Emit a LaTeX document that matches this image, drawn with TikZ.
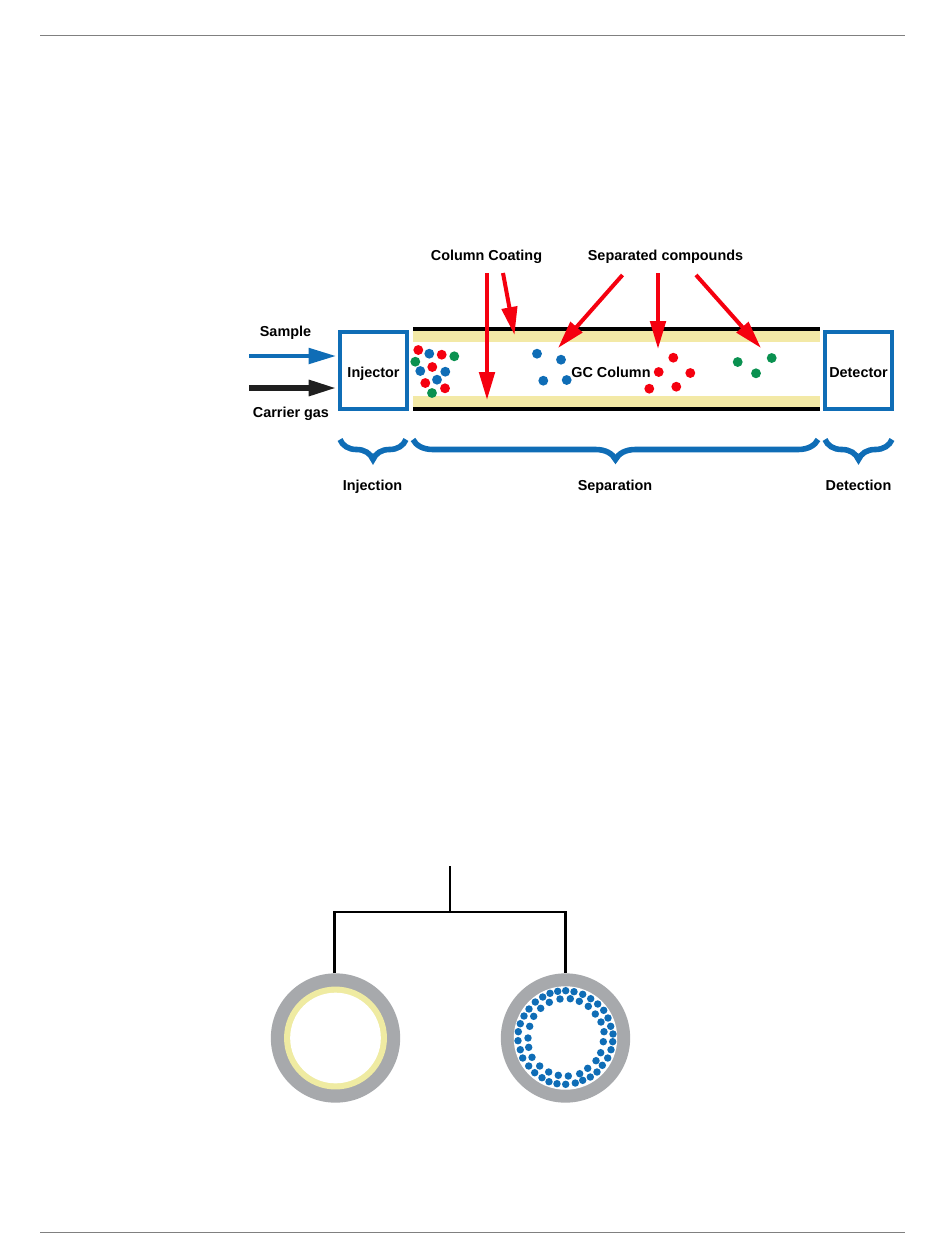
\documentclass[tikz,border=0pt]{standalone}
\usepackage{fontspec}
\setmainfont{Liberation Sans}
\usetikzlibrary{arrows.meta, positioning, decorations.pathreplacing}
\definecolor{gcblue}{HTML}{0F6DB6}
\definecolor{gcred}{HTML}{F5000F}
\definecolor{gcgreen}{HTML}{0A9150}
\definecolor{gccoat}{HTML}{F3E9A6}
\definecolor{gcwall}{HTML}{A7A9AC}
\definecolor{gcring}{HTML}{EFEBA2}

\begin{document}
\begin{tikzpicture}[x=0.75pt, y=-0.75pt,
  lbl/.style={font=\bfseries\fontsize{10.8}{12}\selectfont, inner sep=0pt, text height=7.5pt, text depth=0pt},
  unit/.style={draw=gcblue, line width=3pt, fill=white, minimum width=50.25pt, minimum height=57.75pt, inner sep=0pt, text height=10.2pt},
  feed/.style={line width=3pt, -{Triangle[length=20.5pt, width=11.5pt]}, shorten >=1.5pt},
  pointer/.style={draw=gcred, line width=3pt, -{Triangle[length=21pt, width=11.5pt]}},
  phase/.style={draw=gcblue, line width=4.2pt, decorate, decoration={brace, mirror, amplitude=15pt}},
  tube/.style={circle, fill=gcwall, minimum size=97pt, inner sep=0pt},
  rail/.style={line width=2.2pt}]
\useasboundingbox (0,0) rectangle (950,1257);

% page rules
\draw[gray, line width=0.5pt] (40,35.5) -- (905,35.5);
\draw[gray, line width=0.5pt] (40,1232) -- (905,1232);

% column
\fill[gccoat] (413,331) rectangle (820,342);
\fill[gccoat] (413,396) rectangle (820,407);
\fill (413,327) rectangle (820,331);
\fill (413,407) rectangle (820,411);

\node[lbl, unit] (injector) at (373.5,370.5) {Injector};
\node[lbl, unit, minimum width=50.5pt] (detector) at (858.5,370.5) {Detector};
\node[lbl] (gccol) at (611,372.3) {GC Column};

% compounds
\foreach \px/\py/\clr in {418.3/350/gcred, 429.3/353.7/gcblue, 441.7/354.7/gcred, 454.3/356.3/gcgreen,
    415.3/361.7/gcgreen, 432.3/367/gcred, 420.3/371/gcblue, 445.3/371.7/gcblue, 437/379.7/gcblue,
    425.3/383/gcred, 445/388.3/gcred, 432/393/gcgreen,
    537/353.7/gcblue, 561/359.7/gcblue, 543.3/380.7/gcblue, 566.7/380/gcblue,
    673.3/357.7/gcred, 658.7/372/gcred, 690.3/373/gcred, 676.3/386.7/gcred, 649.3/388.7/gcred,
    737.7/362/gcgreen, 771.7/358/gcgreen, 756/373.3/gcgreen}
  \fill[\clr] (\px,\py) circle (3.7pt);

% labels
\node[lbl] (sample) at (285.5,331) {Sample};
\node[lbl] (carrier) at (291,412.5) {Carrier gas};
\node[lbl] (coating) at (486.5,255) {Column Coating};
\node[lbl] (separated) at (665.5,255) {Separated compounds};
\node[lbl] (injection) at (372.5,485.7) {Injection};
\node[lbl] (separation) at (615,485.7) {Separation};
\node[lbl] (detection) at (858.5,485.7) {Detection};

% feeds
\coordinate (samplein) at (249,356);
\coordinate (carrierin) at (249,388);
\draw[feed, gcblue] (samplein) -- (samplein -| injector.west);
\draw[feed, black!88, line width=3.8pt] (carrierin) -- (carrierin -| injector.west);

% pointers
\coordinate (coatA) at (487,273);
\coordinate (coatAend) at (487,400);
\coordinate (coatB) at (503,273);
\coordinate (coatBend) at (514.5,335);
\coordinate (sepA) at (622.5,275);
\coordinate (sepAend) at (558,348);
\coordinate (sepB) at (658,273);
\coordinate (sepBend) at (658,349);
\coordinate (sepC) at (696,275);
\coordinate (sepCend) at (761,348);
\draw[pointer] (coatA) -- (coatAend);
\draw[pointer] (coatB) -- (coatBend);
\draw[pointer] (sepA) -- (sepAend);
\draw[pointer] (sepB) -- (sepBend);
\draw[pointer] (sepC) -- (sepCend);

% stages
\draw[phase] (340,439.5) -- (406,439.5);
\draw[phase] (413,439.5) -- (818,439.5);
\draw[phase] (825,439.5) -- (892,439.5);

% cross sections
\node[tube] (opentube) at (335.5,1038) {};
\fill[gcring] (opentube) circle (38.6pt);
\fill[white] (opentube) circle (34pt);
\node[tube] (packedtube) at (565.5,1038) {};
\fill[white] (packedtube) circle (38.8pt);
\foreach \px/\py in {557.7/991.3, 565.7/990.7, 574/991.7, 582.7/994.3, 590.7/998.7, 597.7/1004,
    603.7/1010.3, 608/1018, 610.7/1026.3, 613/1034, 612.7/1041.7, 611/1049.7, 607.7/1058,
    602.3/1065.3, 597/1072, 590.3/1077, 582.7/1080.3, 575.3/1083, 565.7/1084.3, 557/1083.7,
    549/1081.7, 542/1077.7, 534.7/1072.7, 528.7/1066, 522.7/1058, 520.3/1049.7, 518/1040.7,
    518.3/1031.7, 520.3/1023.7, 524/1016, 529/1009, 535.3/1002, 542.7/997, 550/993.3,
    560/999, 570.3/998.7, 579.3/1001.3, 588.3/1006.3, 595.3/1014, 601/1022, 604/1031.7,
    603.3/1041.7, 600.7/1052.7, 596/1060.7, 587.7/1068.3, 579.7/1073.7, 568.3/1076,
    558.3/1075.3, 548.7/1072, 539.7/1066, 532/1057.3, 528.7/1047.3, 528/1038, 529.7/1026.3,
    533.7/1016.3, 540.7/1008.3, 549.3/1002.3}
  \fill[gcblue] (\px,\py) circle (2.8pt);

% branch
\coordinate (stem) at (450,866);
\coordinate (fork) at (450,912);
\draw[rail] (stem) -- (fork);
\draw[rail] ([xshift=-1.1pt]opentube.north) |- (fork) -| (packedtube.north);
\end{tikzpicture}
\end{document}
